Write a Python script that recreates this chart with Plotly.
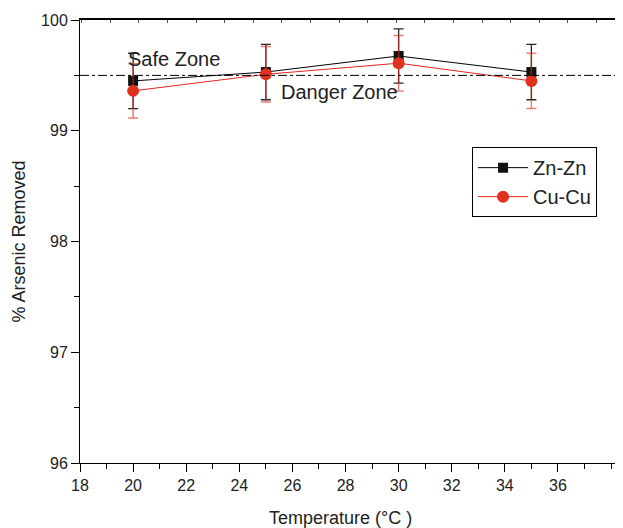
import plotly.graph_objects as go

temperature = [20, 25, 30, 35]
zn_zn = [99.45, 99.53, 99.675, 99.53]
zn_zn_err = [0.25, 0.25, 0.245, 0.25]
cu_cu = [99.36, 99.51, 99.61, 99.45]
cu_cu_err = [0.245, 0.25, 0.25, 0.25]
safe_level = 99.5
x_ticks = [18, 20, 22, 24, 26, 28, 30, 32, 34, 36]
y_ticks = [96, 97, 98, 99, 100]

FONT = "Liberation Sans, Arial, sans-serif"
TXT = "#222222"

fig = go.Figure()

fig.add_trace(go.Scatter(
    x=temperature, y=zn_zn, name="Zn-Zn", mode="lines+markers",
    line=dict(color="black", width=1),
    marker=dict(symbol="square", size=10, color="#111111"),
    error_y=dict(type="data", array=zn_zn_err, visible=True,
                 color="rgba(0,0,0,0.85)", thickness=1.3, width=5),
))
fig.add_trace(go.Scatter(
    x=temperature, y=cu_cu, name="Cu-Cu", mode="lines+markers",
    line=dict(color="#e2261c", width=1),
    marker=dict(symbol="circle", size=12, color="#e0301e"),
    error_y=dict(type="data", array=cu_cu_err, visible=True,
                 color="rgba(225,40,30,0.6)", thickness=1.5, width=5),
))
# invisible trace to drive the top axis ticks
fig.add_trace(go.Scatter(x=[0], y=[96], xaxis="x2", mode="markers",
                         marker=dict(opacity=0), showlegend=False, hoverinfo="skip"))

fig.add_shape(type="line", xref="paper", x0=0, x1=1, yref="y",
              y0=safe_level, y1=safe_level,
              line=dict(color="black", width=1, dash="dashdot"))

fig.add_annotation(x=19.74, y=99.648, text="Safe Zone", showarrow=False,
                   xanchor="left", yanchor="middle",
                   font=dict(family=FONT, size=20, color=TXT))
fig.add_annotation(x=25.49, y=99.35, text="Danger Zone", showarrow=False,
                   xanchor="left", yanchor="middle",
                   font=dict(family=FONT, size=20, color=TXT))

fig.add_annotation(xref="paper", yref="paper", x=0, y=0.5, xshift=-62,
                   text="% Arsenic Removed", textangle=-90, showarrow=False,
                   xanchor="center", yanchor="middle",
                   font=dict(family=FONT, size=18, color=TXT))
fig.add_annotation(xref="paper", yref="paper", x=0.48, y=0, yshift=-55,
                   text="Temperature (°C )", showarrow=False,
                   xanchor="center", yanchor="middle",
                   font=dict(family=FONT, size=18, color=TXT))

fig.update_layout(
    width=615, height=520,
    margin=dict(l=72, r=0, t=12, b=65),
    paper_bgcolor="white", plot_bgcolor="white",
    font=dict(family=FONT, size=16, color=TXT),
    xaxis=dict(range=[18, 38.45], tickvals=x_ticks, ticks="outside", ticklen=8,
               tickcolor="black", showline=True, linecolor="black", linewidth=1,
               showgrid=False, zeroline=False,
               minor=dict(dtick=1, ticks="outside", ticklen=5, tickcolor="black")),
    xaxis2=dict(overlaying="x", side="top", range=[-1.06, 17.93], dtick=1,
                ticks="inside", ticklen=3, tickcolor="#555", showticklabels=False,
                showline=True, linecolor="black", linewidth=1.5,
                showgrid=False, zeroline=False),
    yaxis=dict(range=[96, 100], tickvals=y_ticks, ticks="outside", ticklen=8,
               tickcolor="black", showline=True, linecolor="black", linewidth=1,
               showgrid=False, zeroline=False,
               minor=dict(dtick=0.5, ticks="outside", ticklen=5, tickcolor="black")),
    legend=dict(x=0.722, y=0.713, xanchor="left", yanchor="top",
                bordercolor="black", borderwidth=1, bgcolor="white",
                font=dict(family=FONT, size=20, color=TXT),
                itemwidth=50, tracegroupgap=0),
    showlegend=True,
)

fig.write_html("out.html")
